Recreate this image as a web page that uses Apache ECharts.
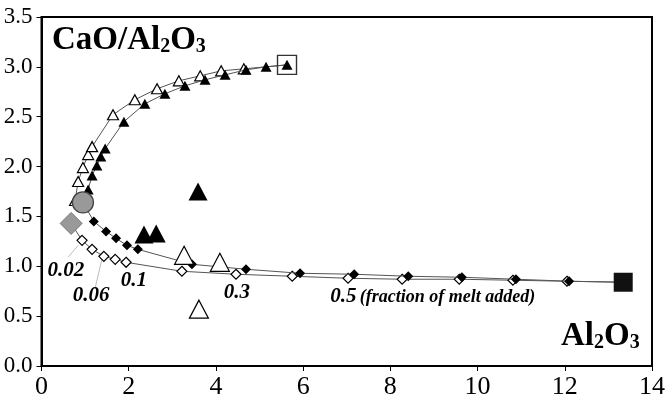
<!DOCTYPE html>
<html><head><meta charset="utf-8">
<script src="https://cdn.jsdelivr.net/npm/echarts@6/dist/echarts.min.js"></script>
<style>html,body{margin:0;padding:0;background:#fff}#c{width:668px;height:404px}</style>
</head><body><div id="c"></div>
<script>
const xTickLabels = ['0','2','4','6','8','10','12','14'];
const yTickLabels = ['0.0','0.5','1.0','1.5','2.0','2.5','3.0','3.5'];

const startCircle = [0.95, 1.64];
const startDiamond = [0.68, 1.43];
const endSquareBlack = [13.34, 0.84];
const endSquareOpen = [5.63, 3.02];

const openTriangles = [[0.77,1.66],[0.84,1.85],[0.95,1.99],[1.07,2.12],[1.16,2.20],[1.64,2.52],[2.14,2.67],[2.65,2.78],[3.15,2.86],[3.64,2.91],[4.12,2.96],[4.64,2.98]];
const filledTriangles = [[1.07,1.77],[1.16,1.91],[1.27,2.01],[1.36,2.10],[1.46,2.18],[1.89,2.45],[2.37,2.63],[2.83,2.73],[3.29,2.81],[3.75,2.87],[4.21,2.92],[4.69,2.97],[5.15,3.00],[5.63,3.02]];
const filledDiamonds = [[1.20,1.45],[1.48,1.35],[1.71,1.28],[1.96,1.21],[2.21,1.17],[3.45,1.02],[4.69,0.97],[5.93,0.93],[7.17,0.92],[8.41,0.90],[9.64,0.89],[10.88,0.87],[12.10,0.85]];
const openDiamonds = [[0.93,1.26],[1.16,1.17],[1.43,1.10],[1.69,1.07],[1.94,1.04],[3.22,0.95],[4.46,0.92],[5.75,0.90],[7.03,0.88],[8.27,0.87],[9.58,0.87],[10.81,0.86],[12.05,0.85]];
const bigFilledTriangles = [[2.35,1.32],[2.63,1.33],[3.59,1.75]];
const bigOpenTriangles = [[3.27,1.11],[4.09,1.04],[3.61,0.57]];

const fractionLabels = ['0.02','0.06','0.1','0.3'];
const fractionLabelPos = [[0.56,0.96],[1.14,0.71],[2.12,0.86],[4.48,0.74]];
const lastFractionLabel = '0.5';
const lastFractionNote = '(fraction of melt added)';
const lastFractionPos = [6.62,0.70];
const leaderLines = [[[0.61,1.09],[0.84,1.21]],[[1.23,0.78],[1.39,1.08]]];

const FONT = 'Liberation Serif';
const LINE = {color:'#555', width:1};

function path(start, pts, end) {
  const d = [];
  if (start) d.push({value:start, symbol:'none'});
  pts.forEach(p => d.push(p));
  if (end) d.push({value:end, symbol:'none'});
  return d;
}

const series = [
  {type:'line', data:path(startDiamond, openDiamonds, endSquareBlack), symbol:'diamond', symbolSize:10,
   lineStyle:LINE, itemStyle:{color:'#fff', borderColor:'#000', borderWidth:1.2, opacity:1}, z:2},
  {type:'line', data:path(startCircle, filledDiamonds, endSquareBlack), symbol:'diamond', symbolSize:10,
   lineStyle:LINE, itemStyle:{color:'#000', opacity:1}, z:3},
  {type:'line', data:path(startCircle, openTriangles, endSquareOpen), symbol:'triangle', symbolSize:[11,10],
   lineStyle:LINE, itemStyle:{color:'#fff', borderColor:'#000', borderWidth:1.2, opacity:1}, z:4},
  {type:'line', data:path(startCircle, filledTriangles, null), symbol:'triangle', symbolSize:[11,10],
   lineStyle:LINE, itemStyle:{color:'#000', opacity:1}, z:5},
  {type:'scatter', data:bigFilledTriangles, symbol:'triangle', symbolSize:[19,18], itemStyle:{color:'#000', opacity:1}, z:6},
  {type:'scatter', data:bigOpenTriangles, symbol:'triangle', symbolSize:[19,18], itemStyle:{color:'#fff', borderColor:'#000', borderWidth:1.2, opacity:1}, z:6},
  {type:'scatter', data:[startCircle], symbol:'circle', symbolSize:21, itemStyle:{color:'#999', borderColor:'#444', borderWidth:1.3, opacity:1}, z:7},
  {type:'scatter', data:[startDiamond], symbol:'diamond', symbolSize:22, itemStyle:{color:'#999', borderColor:'#777', borderWidth:1, opacity:1}, z:7},
  {type:'scatter', data:[endSquareBlack], symbol:'rect', symbolSize:19, itemStyle:{color:'#111', opacity:1}, z:7},
  {type:'scatter', data:[endSquareOpen], symbol:'rect', symbolSize:19, itemStyle:{color:'rgba(0,0,0,0)', borderColor:'#333', borderWidth:1.4, opacity:1}, z:7},
];
leaderLines.forEach(l => series.push({type:'line', data:l, symbol:'none', lineStyle:{color:'#aaa', width:0.8}, z:1, silent:true}));
series.push({type:'scatter', symbolSize:0, z:8, itemStyle:{opacity:1},
  data: fractionLabels.map((t,i) => ({value:fractionLabelPos[i], name:t})),
  label:{show:true, position:'inside', formatter:'{b}', fontFamily:FONT, fontWeight:'bold', fontStyle:'italic', fontSize:21, color:'#000', opacity:1}});
series.push({type:'scatter', symbolSize:0, z:8, itemStyle:{opacity:1},
  data:[{value:lastFractionPos, name:lastFractionLabel}],
  label:{show:true, position:'right', distance:0, opacity:1, formatter:'{a|{b}} {c|' + lastFractionNote + '}',
    rich:{a:{fontFamily:FONT, fontWeight:'bold', fontStyle:'italic', fontSize:21, color:'#000'},
          c:{fontFamily:FONT, fontWeight:'bold', fontStyle:'italic', fontSize:18, color:'#000', padding:[2,0,0,0]}}}});

const richTitle = {
  m:{fontFamily:FONT, fontWeight:'bold', fontSize:33, lineHeight:34, fill:'#000'},
  s:{fontFamily:FONT, fontWeight:'bold', fontSize:20, lineHeight:14, verticalAlign:'bottom', fill:'#000'}
};

const chart = echarts.init(document.getElementById('c'), null, {renderer:'canvas'});
chart.setOption({
  animation:false,
  backgroundColor:'#fff',
  grid:{left:41.5, right:13, top:17, bottom:38, show:true, borderColor:'#000', borderWidth:2, backgroundColor:'transparent'},
  xAxis:{type:'value', min:0, max:14, interval:2,
    axisLine:{show:true, onZero:false, lineStyle:{color:'#000', width:2}},
    axisTick:{show:true, inside:false, length:5, lineStyle:{color:'#000'}},
    splitLine:{show:false},
    axisLabel:{margin:8, fontFamily:FONT, fontSize:26, color:'#000', formatter:(v,i)=>xTickLabels[i]}},
  yAxis:{type:'value', min:0, max:3.5, interval:0.5,
    axisLine:{show:true, onZero:false, lineStyle:{color:'#000', width:2}},
    axisTick:{show:true, inside:false, length:5, lineStyle:{color:'#000'}},
    splitLine:{show:false},
    axisLabel:{margin:9, fontFamily:FONT, fontSize:23, color:'#000', formatter:(v,i)=>yTickLabels[i]}},
  graphic:[
    {type:'text', x:52, y:23, z:100, style:{text:'{m|CaO/Al}{s|2}{m|O}{s|3}', rich:richTitle}},
    {type:'text', x:561, y:319, z:100, style:{text:'{m|Al}{s|2}{m|O}{s|3}', rich:richTitle}}
  ],
  series:series
});
</script></body></html>
